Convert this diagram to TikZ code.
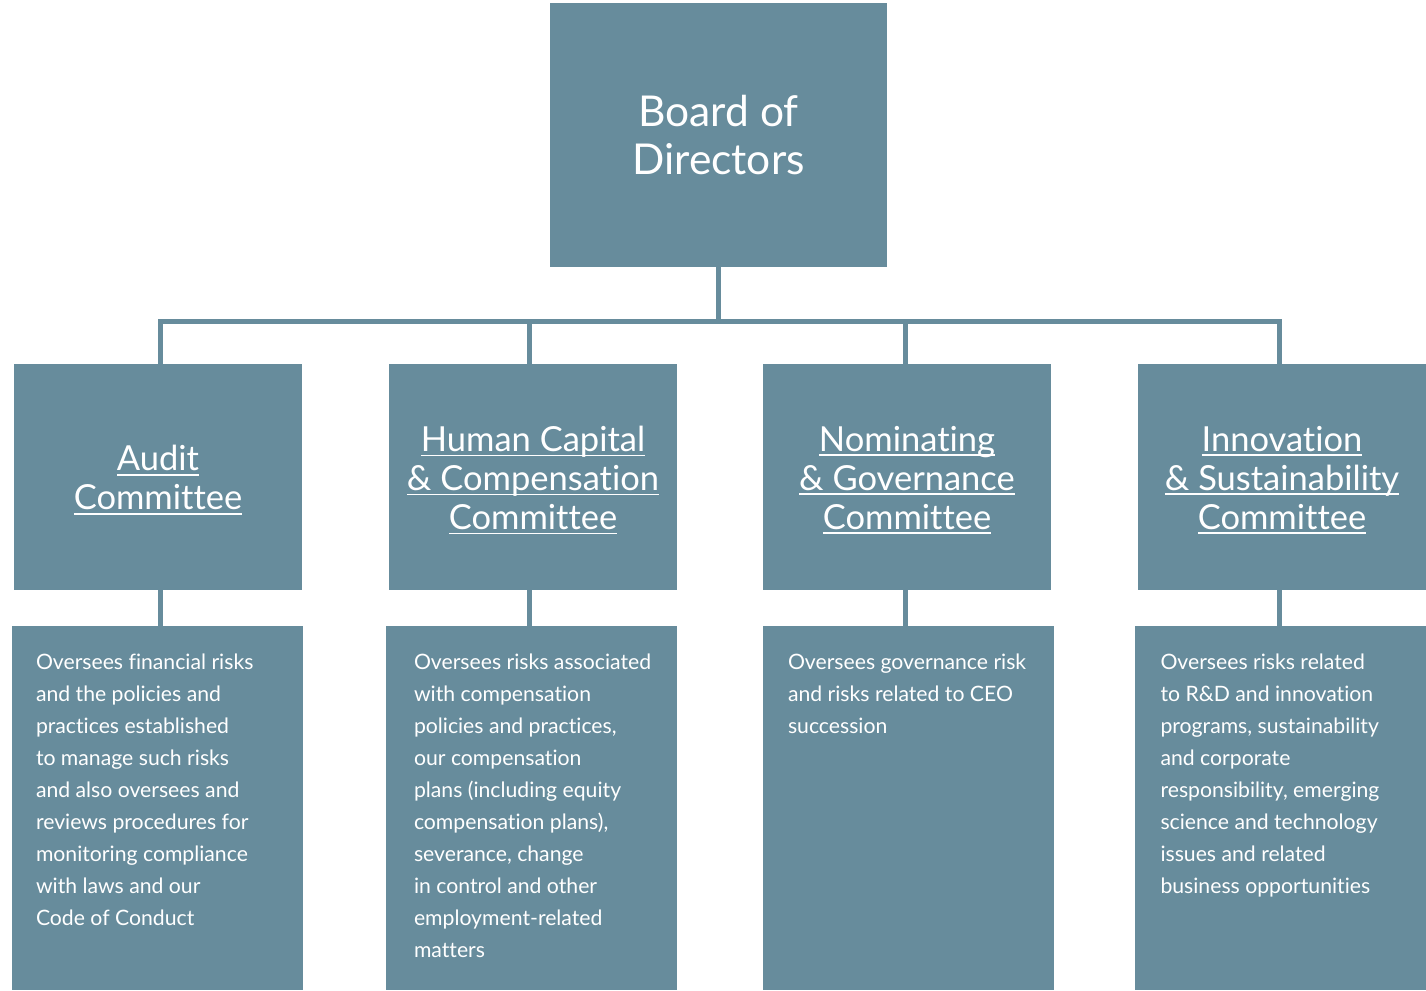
\documentclass[tikz,border=0pt]{standalone}
\usepackage{fontspec}
\setmainfont{Lato}[Ligatures=NoCommon]
\definecolor{boxc}{HTML}{678C9C}
\newcommand\myul[1]{\setbox0\hbox{#1}\rlap{\rule[-5pt]{\wd0}{1.6pt}}\box0}
\tikzset{
  boardbox/.style={fill=boxc, draw=none, minimum width=337pt, minimum height=264pt, inner sep=0pt,
    text=white, align=center, font=\fontsize{42.5}{48}\selectfont},
  combox/.style={fill=boxc, draw=none, minimum width=288pt, minimum height=226pt, inner sep=0pt},
  comtext/.style={text=white, align=center, inner sep=0pt, font=\fontsize{34.5}{39}\selectfont},
  descbox/.style={fill=boxc, draw=none, minimum width=291pt, minimum height=364pt, inner sep=0pt, anchor=north},
  desctext/.style={text=white, align=left, anchor=north west, inner sep=0pt, font=\fontsize{21.2}{32}\selectfont},
  conn/.style={draw=boxc, line width=5pt}
}
\begin{document}
\begin{tikzpicture}[x=1pt,y=-1pt]
\useasboundingbox (0,0) rectangle (1426,990);
% board
\node[boardbox] (board) at (718.5,135) {Board of\\Directors};
% committees
\node[combox] (c1) at (158,477) {};
\node[combox] (c2) at (533,477) {};
\node[combox] (c3) at (907,477) {};
\node[combox] (c4) at (1282,477) {};
\node[comtext] (ct1) at ([yshift=-3pt]c1.center) {\myul{Audit}\\\myul{Committee}};
\node[comtext] (ct2) at ([yshift=-3pt]c2.center) {\myul{Human Capital}\\\myul{\& Compensation}\\\myul{Committee}};
\node[comtext] (ct3) at ([yshift=-3pt]c3.center) {\myul{Nominating}\\\myul{\& Governance}\\\myul{Committee}};
\node[comtext] (ct4) at ([yshift=-3pt]c4.center) {\myul{Innovation}\\\myul{\& Sustainability}\\\myul{Committee}};
% description boxes
\node[descbox] (d1) at (157.5,626) {};
\node[descbox] (d2) at (531.5,626) {};
\node[descbox] (d3) at (908.5,626) {};
\node[descbox] (d4) at (1280,626) {};
\node[desctext] (t1) at ([shift={(24,28)}]d1.north west) {Oversees financial risks\\and the policies and\\practices established\\to manage such risks\\and also oversees and\\reviews procedures for\\monitoring compliance\\with laws and our\\Code of Conduct};
\node[desctext] (t2) at ([shift={(28,28)}]d2.north west) {Oversees risks associated\\with compensation\\policies and practices,\\our compensation\\plans (including equity\\compensation plans),\\severance, change\\in control and other\\employment-related\\matters};
\node[desctext] (t3) at ([shift={(25,28)}]d3.north west) {Oversees governance risk\\and risks related to CEO\\succession};
\node[desctext] (t4) at ([shift={(26,28)}]d4.north west) {Oversees risks related\\to R\&D and innovation\\programs, sustainability\\and corporate\\responsibility, emerging\\science and technology\\issues and related\\business opportunities};
% bus
\coordinate (bus) at (718.5,321);
\coordinate (p1) at ([xshift=2pt]c1.north);
\coordinate (p2) at ([xshift=-4pt]c2.north);
\coordinate (p3) at ([xshift=-2pt]c3.north);
\coordinate (p4) at ([xshift=-3pt]c4.north);
\draw[conn] (board.south) -- (bus);
\draw[conn] (p1) -- (p1 |- bus) -- (p4 |- bus) -- (p4);
\draw[conn] (p2) -- (p2 |- bus);
\draw[conn] (p3) -- (p3 |- bus);
\draw[conn] (c1.south -| p1) -- (d1.north -| p1);
\draw[conn] (c2.south -| p2) -- (d2.north -| p2);
\draw[conn] (c3.south -| p3) -- (d3.north -| p3);
\draw[conn] (c4.south -| p4) -- (d4.north -| p4);
\end{tikzpicture}
\end{document}
